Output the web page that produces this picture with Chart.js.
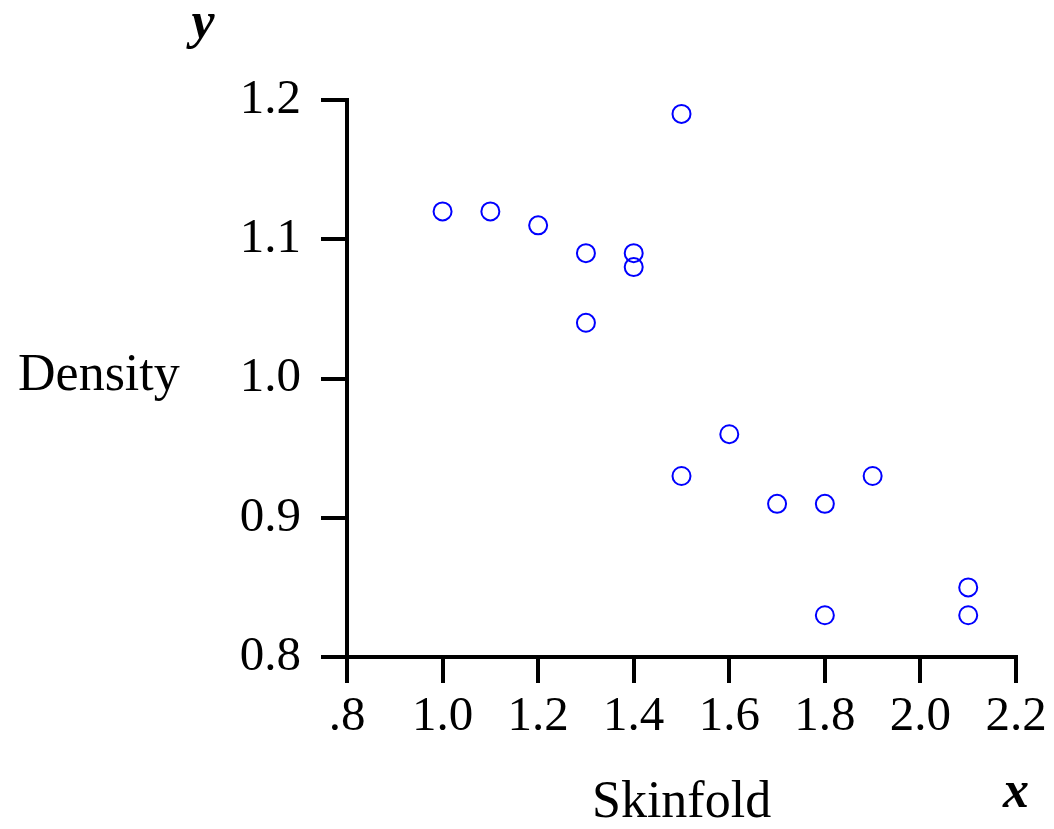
<!DOCTYPE html>
<html>
<head>
<meta charset="utf-8">
<script src="https://cdn.jsdelivr.net/npm/chart.js"></script>
<style>
  html, body { margin: 0; padding: 0; background: #fff; }
  #wrap { width: 1054px; height: 829px; position: relative; }
</style>
</head>
<body>
<div id="wrap"><canvas id="chart" width="1054" height="829"></canvas></div>
<script>
// Skinfold vs density
const skinfold = [1.0, 1.1, 1.2, 1.3, 1.3, 1.4, 1.4, 1.5, 1.5, 1.6, 1.7, 1.8, 1.8, 1.9, 2.1, 2.1];
const density  = [1.12, 1.12, 1.11, 1.09, 1.04, 1.09, 1.08, 1.19, 0.93, 0.96, 0.91, 0.91, 0.83, 0.93, 0.85, 0.83];

const xTicks = [0.8, 1.0, 1.2, 1.4, 1.6, 1.8, 2.0, 2.2];
const xTickLabels = ['.8', '1.0', '1.2', '1.4', '1.6', '1.8', '2.0', '2.2'];
const yTicks = [0.8, 0.9, 1.0, 1.1, 1.2];
const yTickLabels = ['0.8', '0.9', '1.0', '1.1', '1.2'];

const serif = '"Liberation Serif", "DejaVu Serif", serif';

// axis names drawn next to the axes, not rotated
const axisNames = {
    id: 'axisNames',
    afterDraw(chart) {
        const ctx = chart.ctx;
        const a = chart.chartArea;
        ctx.save();
        ctx.fillStyle = '#000';
        ctx.textBaseline = 'alphabetic';

        ctx.font = '52px ' + serif;
        ctx.textAlign = 'left';
        ctx.fillText('Density', 18, 390);
        ctx.fillText('Skinfold', 592, 817);

        ctx.font = 'italic bold 52px ' + serif;
        ctx.textAlign = 'center';
        ctx.fillText('y', 203, 38);
        ctx.fillText('x', a.right, 807);
        ctx.restore();
    }
};

const data = skinfold.map((x, i) => ({ x: x, y: density[i] }));

new Chart(document.getElementById('chart'), {
    type: 'scatter',
    data: {
        datasets: [{
            data: data,
            pointStyle: 'circle',
            pointRadius: 9,
            pointHoverRadius: 9,
            borderWidth: 2,
            borderColor: '#0000ff',
            backgroundColor: 'rgba(0,0,0,0)'
        }]
    },
    options: {
        responsive: false,
        animation: false,
        events: [],
        layout: { padding: { left: 0, top: 100, right: 38, bottom: 0 } },
        plugins: { legend: { display: false }, tooltip: { enabled: false } },
        scales: {
            x: {
                type: 'linear',
                min: 0.8,
                max: 2.2,
                afterBuildTicks: s => { s.ticks = xTicks.map(v => ({ value: v })); },
                afterFit: s => { s.height = 829 - 657; },
                ticks: {
                    color: '#000',
                    font: { family: serif, size: 49 },
                    padding: 5,
                    maxRotation: 0,
                    callback: v => xTickLabels[xTicks.indexOf(v)]
                },
                grid: { drawOnChartArea: false, drawTicks: true, tickLength: 26, color: '#000', lineWidth: 4 },
                border: { color: '#000', width: 4 }
            },
            y: {
                type: 'linear',
                min: 0.8,
                max: 1.2,
                afterBuildTicks: s => { s.ticks = yTicks.map(v => ({ value: v })); },
                afterFit: s => { s.width = 347; },
                ticks: {
                    color: '#000',
                    font: { family: serif, size: 49 },
                    padding: 20,
                    callback: v => yTickLabels[yTicks.indexOf(v)]
                },
                grid: { drawOnChartArea: false, drawTicks: true, tickLength: 26, color: '#000', lineWidth: 4 },
                border: { color: '#000', width: 4 }
            }
        }
    },
    plugins: [axisNames]
});
</script>
</body>
</html>
